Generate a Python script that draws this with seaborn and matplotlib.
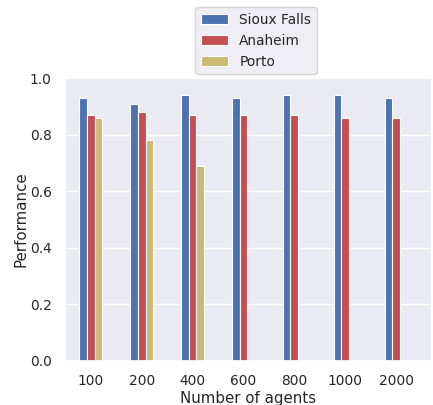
import numpy as np
import pandas as pd
import seaborn as sns
import matplotlib
matplotlib.use("Agg")
import matplotlib.pyplot as plt

# --- DATA ---
agents = ["100", "200", "400", "600", "800", "1000", "2000"]
sioux_falls = [0.93, 0.91, 0.94, 0.93, 0.94, 0.94, 0.93]
anaheim = [0.87, 0.88, 0.87, 0.87, 0.87, 0.86, 0.86]
porto = [0.86, 0.78, 0.69, np.nan, np.nan, np.nan, np.nan]
cities = ["Sioux Falls", "Anaheim", "Porto"]

sns.set_theme(style="darkgrid", color_codes=True, font_scale=0.9)

df = pd.DataFrame({
    "agents": agents * 3,
    "city": [c for c in cities for _ in agents],
    "performance": sioux_falls + anaheim + porto,
})

fig = plt.figure(figsize=(4.33, 4.05), dpi=100)
ax = fig.add_axes([0.150, 0.109, 0.848, 0.698])

sns.barplot(data=df, x="agents", y="performance", hue="city",
            order=agents, hue_order=cities,
            palette=["b", "r", "y"], width=0.45, errorbar=None,
            edgecolor="white", linewidth=0.8, saturation=1, ax=ax)

ax.set_xlim(-0.51, 6.71)
ax.set_ylim(0, 1.0)
ax.set_yticks([0.0, 0.2, 0.4, 0.6, 0.8, 1.0])
ax.set_xlabel("Number of agents", labelpad=2)
ax.set_ylabel("Performance", labelpad=1)

# legend sits above the axes
handles, labels = ax.get_legend_handles_labels()
ax.legend(handles, labels, loc="lower center", bbox_to_anchor=(0.52, 0.99))

fig.savefig("out.png", dpi=100)
